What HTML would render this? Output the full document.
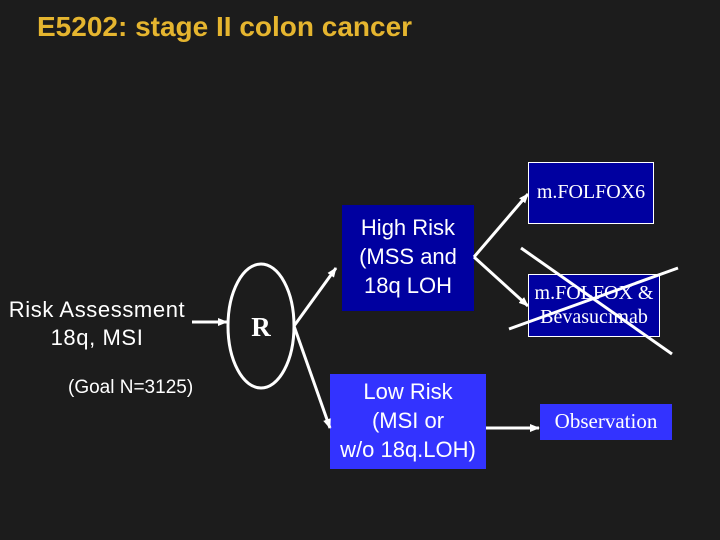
<!DOCTYPE html>
<html><head><meta charset="utf-8"><style>
body{margin:0;width:720px;height:540px;background:#1c1c1c;overflow:hidden;position:relative;font-family:"Liberation Sans",sans-serif}
.a{position:absolute}
.t{left:37px;top:11px;color:#e5b52f;font-weight:bold;font-size:28px;white-space:nowrap}
.box{position:absolute;color:#fff;text-align:center;box-sizing:border-box}
.sans{font-family:"Liberation Sans",sans-serif;font-size:22px;line-height:29px}
.serif{font-family:"Liberation Serif",serif;font-size:20px}
</style></head><body>
<div class="a t">E5202: stage II colon cancer</div>
<div class="a" style="left:0;top:296px;width:194px;text-align:center;color:#fff;font-size:22px;line-height:28px;letter-spacing:0.6px">Risk Assessment<br>18q, MSI</div>
<div class="a" style="left:68px;top:377px;color:#fff;font-size:19px">(Goal N=3125)</div>
<div class="box sans" style="left:342px;top:205px;width:132px;height:106px;background:#0000a0;padding-top:8px">High Risk<br>(MSS and<br>18q LOH</div>
<div class="box sans" style="left:330px;top:374px;width:156px;height:95px;background:#3333ff;padding-top:3px">Low Risk<br>(MSI or<br>w/o 18q.LOH)</div>
<div class="box serif" style="left:528px;top:162px;width:126px;height:62px;background:#0000a0;border:1px solid #fff;padding-top:18px">m.FOLFOX6</div>
<div class="box serif" style="left:528px;top:274px;width:132px;height:63px;background:#0000a0;border:1px solid #fff;padding-top:6px;line-height:24px">m.FOLFOX &amp;<br>Bevasucimab</div>
<div class="box serif" style="left:540px;top:404px;width:132px;height:36px;background:#3333ff;padding-top:5px;font-size:21px">Observation</div>
<svg class="a" style="left:0;top:0" width="720" height="540">
<defs><marker id="m" markerWidth="10" markerHeight="10" refX="9" refY="5" orient="auto" markerUnits="userSpaceOnUse" viewBox="0 0 10 10"><path d="M0,1L10,5L0,9z" fill="#fff"/></marker></defs>
<g stroke="#fff" stroke-width="3" fill="none">
<ellipse cx="261" cy="326" rx="33" ry="62"/>
<line x1="192" y1="322" x2="227" y2="322" marker-end="url(#m)"/>
<line x1="294" y1="326" x2="336" y2="268" marker-end="url(#m)"/>
<line x1="294" y1="326" x2="330" y2="428" marker-end="url(#m)"/>
<line x1="474" y1="257" x2="528" y2="194" marker-end="url(#m)"/>
<line x1="474" y1="257" x2="528" y2="306" marker-end="url(#m)"/>
<line x1="486" y1="428" x2="539" y2="428" marker-end="url(#m)"/>
<line x1="521" y1="248" x2="672" y2="354"/>
<line x1="509" y1="329" x2="678" y2="268"/>
</g>
<text x="261" y="336" fill="#fff" font-family="Liberation Serif,serif" font-weight="bold" font-size="27" text-anchor="middle">R</text>
</svg>
</body></html>
